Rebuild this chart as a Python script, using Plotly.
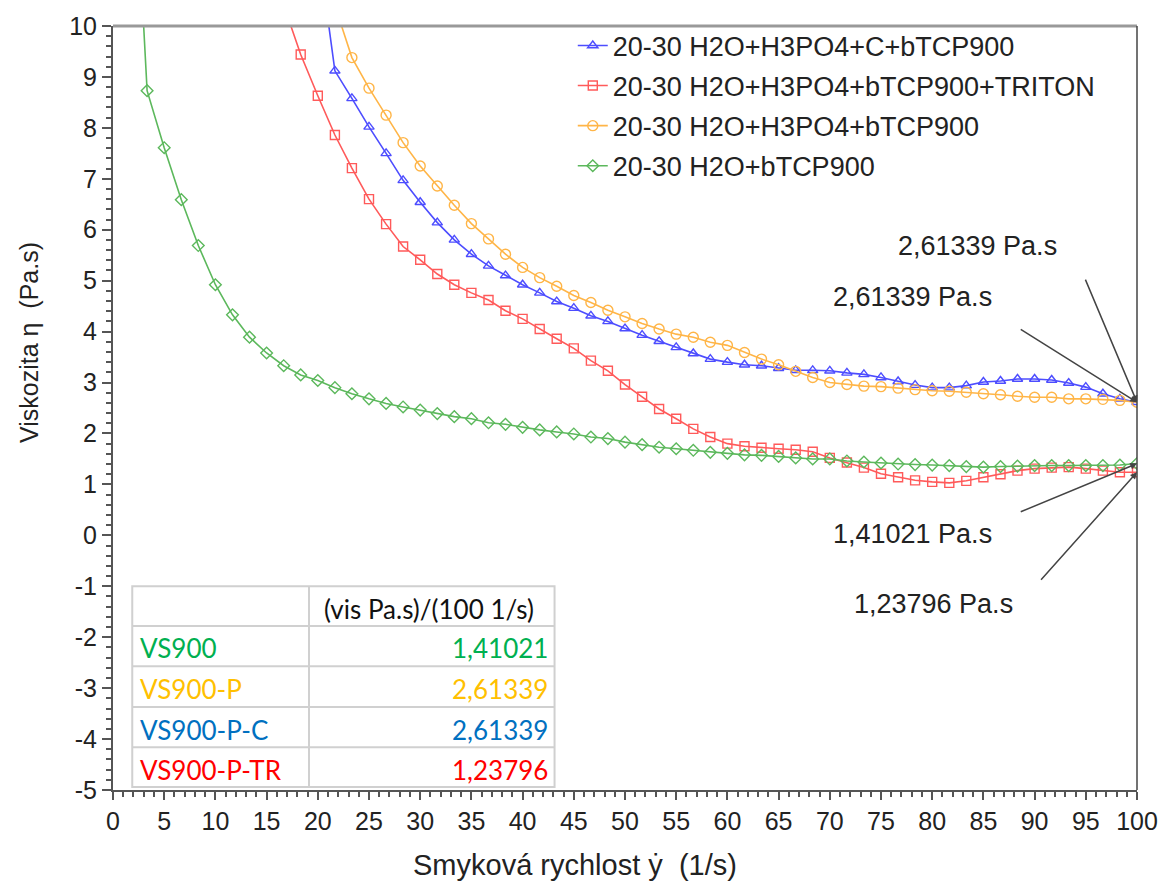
import plotly.graph_objects as go

# Shear rate grid (1/s)
SHEAR_RATE = [
    1.67, 3.33, 5.0, 6.67, 8.33, 10.0, 11.67, 13.33, 15.0, 16.67,
    18.33, 20.0, 21.67, 23.33, 25.0, 26.67, 28.33, 30.0, 31.67, 33.33,
    35.0, 36.67, 38.33, 40.0, 41.67, 43.33, 45.0, 46.67, 48.33, 50.0,
    51.67, 53.33, 55.0, 56.67, 58.33, 60.0, 61.67, 63.33, 65.0, 66.67,
    68.33, 70.0, 71.67, 73.33, 75.0, 76.67, 78.33, 80.0, 81.67, 83.33,
    85.0, 86.67, 88.33, 90.0, 91.67, 93.33, 95.0, 96.67, 98.33, 100.0,
]

# Viscosity (Pa.s) of each suspension
VISC_H2O = [
    15.0, 8.73, 7.61, 6.59, 5.69, 4.92, 4.33, 3.89, 3.58, 3.33,
    3.15, 3.04, 2.90, 2.78, 2.68, 2.59, 2.52, 2.46, 2.39, 2.33,
    2.29, 2.21, 2.18, 2.12, 2.07, 2.03, 1.99, 1.93, 1.90, 1.83,
    1.78, 1.73, 1.70, 1.67, 1.63, 1.61, 1.58, 1.57, 1.55, 1.52,
    1.50, 1.50, 1.46, 1.44, 1.42, 1.40, 1.39, 1.38, 1.37, 1.35,
    1.34, 1.35, 1.36, 1.37, 1.37, 1.37, 1.37, 1.37, 1.38, 1.41021,
]
VISC_TRITON = [  # from 16.67 1/s
    10.41, 9.44, 8.63, 7.86, 7.21, 6.60, 6.11, 5.67, 5.41, 5.13,
    4.92, 4.76, 4.62, 4.41, 4.25, 4.05, 3.86, 3.67, 3.43, 3.23,
    2.96, 2.72, 2.48, 2.29, 2.09, 1.93, 1.80, 1.75, 1.72, 1.70,
    1.68, 1.64, 1.52, 1.43, 1.33, 1.21, 1.14, 1.08, 1.05, 1.03,
    1.07, 1.14, 1.20, 1.27, 1.31, 1.33, 1.34, 1.31, 1.27, 1.24,
    1.23796,
]
VISC_C = [  # from 20.0 1/s
    11.6, 9.12, 8.58, 8.02, 7.50, 6.97, 6.54, 6.14, 5.80, 5.52,
    5.29, 5.10, 4.92, 4.76, 4.59, 4.46, 4.31, 4.20, 4.06, 3.93,
    3.81, 3.69, 3.57, 3.46, 3.40, 3.35, 3.33, 3.28, 3.24, 3.24,
    3.23, 3.19, 3.16, 3.10, 3.02, 2.95, 2.90, 2.90, 2.94, 3.01,
    3.03, 3.07, 3.07, 3.05, 2.99, 2.91, 2.78, 2.68, 2.61339,
]
VISC_H3PO4 = [  # from 21.67 1/s
    10.40, 9.38, 8.78, 8.25, 7.71, 7.25, 6.86, 6.48, 6.12, 5.82,
    5.52, 5.26, 5.06, 4.89, 4.71, 4.57, 4.42, 4.29, 4.16, 4.05,
    3.95, 3.89, 3.79, 3.73, 3.59, 3.46, 3.35, 3.22, 3.10, 3.00,
    2.96, 2.93, 2.92, 2.89, 2.86, 2.84, 2.83, 2.81, 2.78, 2.76,
    2.73, 2.71, 2.71, 2.68, 2.68, 2.67, 2.65, 2.61339,
]

SERIES_NAMES = [
    "20-30 H2O+H3PO4+C+bTCP900",
    "20-30 H2O+H3PO4+bTCP900+TRITON",
    "20-30 H2O+H3PO4+bTCP900",
    "20-30 H2O+bTCP900",
]

# Summary table: viscosity at 100 1/s
TABLE_HEADER = "(vis Pa.s)/(100 1/s)"
TABLE_LABELS = ["VS900", "VS900-P", "VS900-P-C", "VS900-P-TR"]
TABLE_VALUES = [1.41021, 2.61339, 2.61339, 1.23796]
TABLE_COLORS = ["#00b050", "#ffc000", "#0070c0", "#ff0000"]

# Axis ticks (hyphen-minus labels)
Y_TICKS = list(range(-5, 11))
X_TICKS = list(range(0, 101, 5))


def cz(v):
    return f"{v:.5f}".replace(".", ",")


FONT = "Liberation Sans, Arial, sans-serif"
TABLE_FONT = "Lato, Noto Sans, sans-serif"

series = [
    (SERIES_NAMES[0], VISC_C, "#4d4dff", "triangle-up-open", 9),
    (SERIES_NAMES[1], VISC_TRITON, "#ff5a5a", "square-open", 9),
    (SERIES_NAMES[2], VISC_H3PO4, "#ffb547", "circle-open", 10),
    (SERIES_NAMES[3], VISC_H2O, "#5cb85c", "diamond-open", 9),
]

fig = go.Figure()
for i, (name, vals, color, symbol, size) in enumerate(series):
    xs = SHEAR_RATE[len(SHEAR_RATE) - len(vals):]
    fig.add_trace(go.Scatter(
        x=xs, y=vals, name=name, mode="lines+markers",
        line=dict(color=color, width=1.6),
        marker=dict(symbol=symbol, size=size, color=color,
                    line=dict(color=color, width=1.4)),
        legendgroup=f"g{i}",
        cliponaxis=True,
    ))

# Endpoint callouts at 100 1/s: (value, text x, text y, arrow tail x, arrow tail y)
callouts = [
    (TABLE_VALUES[1], 84.4, 5.69, 94.9, 5.05),
    (TABLE_VALUES[2], 78.1, 4.67, 88.5, 4.06),
    (TABLE_VALUES[0], 78.1, 0.03, 88.5, 0.45),
    (TABLE_VALUES[3], 80.1, -1.34, 90.5, -0.90),
]
annotations = []
for val, tx, ty, axx, ayy in callouts:
    annotations.append(dict(
        x=tx, y=ty, xref="x", yref="y", text=f"{cz(val)} Pa.s",
        xanchor="center", yanchor="middle",
        showarrow=False, font=dict(family=FONT, size=27, color="#222"),
    ))
    annotations.append(dict(
        x=100, y=val, xref="x", yref="y", ax=axx, ay=ayy,
        axref="x", ayref="y", text="", showarrow=True,
        arrowhead=2, arrowsize=0.9, arrowwidth=1.5, arrowcolor="#444",
        standoff=0,
    ))

# Table geometry in data units
tx0, tx1, tcol = 1.88, 43.12, 19.14
row_edges = [-1.0, -1.78, -2.57, -3.37, -4.16, -4.94]
shapes = [
    dict(type="rect", xref="x", yref="y", x0=tx0, x1=tx1,
         y0=row_edges[-1], y1=row_edges[0], fillcolor="white",
         line=dict(color="#d0d0d0", width=2), layer="above"),
    dict(type="line", xref="x", yref="y", x0=tcol, x1=tcol,
         y0=row_edges[-1], y1=row_edges[0],
         line=dict(color="#d0d0d0", width=2), layer="above"),
]
for yy in row_edges[1:-1]:
    shapes.append(dict(type="line", xref="x", yref="y", x0=tx0, x1=tx1,
                       y0=yy, y1=yy, line=dict(color="#d0d0d0", width=2),
                       layer="above"))

# Frame: top and right borders
shapes.append(dict(type="line", xref="paper", yref="paper", x0=0, x1=1,
                   y0=1, y1=1, line=dict(color="#999", width=3)))
shapes.append(dict(type="line", xref="paper", yref="paper", x0=1, x1=1,
                   y0=0, y1=1, line=dict(color="#444", width=1.5)))

annotations.append(dict(
    x=30.9, y=-1.45, xref="x", yref="y", text=TABLE_HEADER, showarrow=False,
    xanchor="center", yanchor="middle",
    font=dict(family=TABLE_FONT, size=26, color="#111"),
))
row_text_y = [-2.22, -3.01, -3.82, -4.61]
for lab, val, col, yy in zip(TABLE_LABELS, TABLE_VALUES, TABLE_COLORS, row_text_y):
    annotations.append(dict(
        x=2.45, y=yy, xref="x", yref="y", text=lab, showarrow=False,
        xanchor="left", yanchor="middle",
        font=dict(family=TABLE_FONT, size=26, color=col),
    ))
    annotations.append(dict(
        x=42.63, y=yy, xref="x", yref="y", text=cz(val), showarrow=False,
        xanchor="right", yanchor="middle",
        font=dict(family=TABLE_FONT, size=26, color=col),
    ))

# Axis titles
annotations.append(dict(
    x=0.451, y=-0.098, xref="paper", yref="paper",
    xanchor="center", yanchor="middle",
    text="Smyková rychlost ẏ  (1/s)", showarrow=False,
    font=dict(family=FONT, size=29, color="#222"),
))
annotations.append(dict(
    x=-0.0826, y=0.5856, xref="paper", yref="paper",
    xanchor="center", yanchor="middle",
    text="Viskozita η  (Pa.s)", showarrow=False, textangle=-90,
    font=dict(family=FONT, size=25, color="#222"),
))

fig.update_layout(
    width=1170, height=885,
    margin=dict(l=113, r=28, t=25, b=95),
    paper_bgcolor="white", plot_bgcolor="white",
    font=dict(family=FONT, size=25, color="#222"),
    showlegend=True,
    legend=dict(x=0.449, y=1.006, xanchor="left", yanchor="top",
                bgcolor="rgba(0,0,0,0)", tracegroupgap=2,
                font=dict(family=FONT, size=27, color="#222")),
    shapes=shapes,
    annotations=annotations,
)
fig.update_xaxes(
    range=[0, 100], tickvals=X_TICKS, ticktext=[str(t) for t in X_TICKS],
    showgrid=False, zeroline=False,
    showline=True, linecolor="#555", linewidth=2,
    ticks="outside", ticklen=8, tickwidth=2, tickcolor="#555",
    minor=dict(dtick=1, tick0=0, ticks="outside", ticklen=5, tickwidth=1.5, tickcolor="#555"),
    tickfont=dict(family=FONT, size=25, color="#222"),
)
fig.update_yaxes(
    range=[-5, 10], tickvals=Y_TICKS, ticktext=[str(t) for t in Y_TICKS],
    showgrid=False, zeroline=False,
    showline=True, linecolor="#555", linewidth=2,
    ticks="outside", ticklen=9, tickwidth=2, tickcolor="#555",
    minor=dict(dtick=0.2, tick0=0, ticks="outside", ticklen=5, tickwidth=1.5, tickcolor="#555"),
    tickfont=dict(family=FONT, size=25, color="#222"),
)

fig.write_html("out.html")
